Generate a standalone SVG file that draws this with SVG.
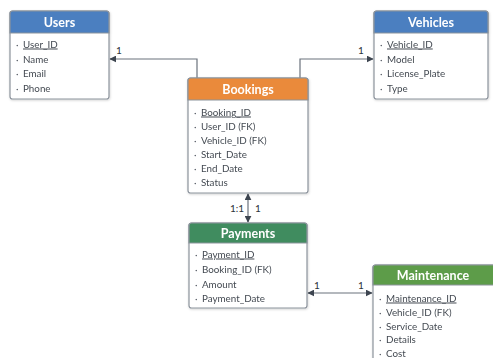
<svg xmlns="http://www.w3.org/2000/svg" width="493" height="358" viewBox="0 0 493 358">
<defs>
<marker id="arr" viewBox="0 0 10 10" refX="9" refY="5" markerWidth="7" markerHeight="7" orient="auto-start-reverse" markerUnits="userSpaceOnUse">
<path d="M0,0 L10,5 L0,10 z" fill="#3d4550"/>
</marker>
<filter id="sh" x="-10%" y="-10%" width="120%" height="120%">
<feDropShadow dx="0.5" dy="1" stdDeviation="0.8" flood-color="#000" flood-opacity="0.18"/>
</filter>
</defs>
<style>
.box{fill:#ffffff;stroke:#8c939c;stroke-width:1.2}
.hd{font-family:Lato,"Open Sans",sans-serif;font-weight:bold;font-size:12.5px;fill:#ffffff;text-anchor:middle}
.it{font-family:Lato,"Open Sans",sans-serif;font-size:9.8px;fill:#444a52}
.bu{font-family:Lato,"Open Sans",sans-serif;font-size:9.8px;fill:#5a6069}
.pk{text-decoration:underline}
.ln{fill:none;stroke:#6b727c;stroke-width:1.2}
.lb{font-family:Lato,"Open Sans",sans-serif;font-size:10px;fill:#2d333a}
</style>
<rect width="493" height="358" fill="#ffffff"/>

<g id="connectors">
<path class="ln" d="M197,78 V59 H110" marker-end="url(#arr)"/>
<text class="lb" x="116" y="54">1</text>
<path class="ln" d="M300,78 V59 H373" marker-end="url(#arr)"/>
<text class="lb" x="358" y="54">1</text>
<path class="ln" d="M248,194 V222" marker-start="url(#arr)" marker-end="url(#arr)"/>
<text class="lb" x="230" y="212">1:1</text>
<text class="lb" x="255" y="212">1</text>
<path class="ln" d="M308,293 H372" marker-start="url(#arr)" marker-end="url(#arr)"/>
<text class="lb" x="314" y="289">1</text>
<text class="lb" x="358" y="289">1</text>
</g>

<g id="users" filter="url(#sh)">
<rect class="box" x="10" y="11" width="99" height="88" rx="2.5"/>
<path d="M10,13.5 a2.5,2.5 0 0 1 2.5,-2.5 H106.5 a2.5,2.5 0 0 1 2.5,2.5 V33 H10 z" fill="#4b7fc0" stroke="#8c939c" stroke-width="1.2"/>
<text class="hd" x="59.5" y="26.5">Users</text>
<text class="bu" x="16" y="47.5">·</text><text class="it pk" x="23" y="47.5">User_ID</text>
<text class="bu" x="16" y="62.5">·</text><text class="it" x="23" y="62.5">Name</text>
<text class="bu" x="16" y="77">·</text><text class="it" x="23" y="77">Email</text>
<text class="bu" x="16" y="91.5">·</text><text class="it" x="23" y="91.5">Phone</text>
</g>

<g id="vehicles" filter="url(#sh)">
<rect class="box" x="374" y="11" width="114" height="88" rx="2.5"/>
<path d="M374,13.5 a2.5,2.5 0 0 1 2.5,-2.5 H485.5 a2.5,2.5 0 0 1 2.5,2.5 V33 H374 z" fill="#4b7fc0" stroke="#8c939c" stroke-width="1.2"/>
<text class="hd" x="431" y="26.5">Vehicles</text>
<text class="bu" x="380" y="47.5">·</text><text class="it pk" x="387" y="47.5">Vehicle_ID</text>
<text class="bu" x="380" y="62.5">·</text><text class="it" x="387" y="62.5">Model</text>
<text class="bu" x="380" y="77">·</text><text class="it" x="387" y="77">License_Plate</text>
<text class="bu" x="380" y="91.5">·</text><text class="it" x="387" y="91.5">Type</text>
</g>

<g id="bookings" filter="url(#sh)">
<rect class="box" x="188" y="78" width="120" height="115" rx="2.5"/>
<path d="M188,80.5 a2.5,2.5 0 0 1 2.5,-2.5 H305.5 a2.5,2.5 0 0 1 2.5,2.5 V100 H188 z" fill="#ea8a3b" stroke="#8c939c" stroke-width="1.2"/>
<text class="hd" x="248" y="93.5">Bookings</text>
<text class="bu" x="194" y="115.5">·</text><text class="it pk" x="201" y="115.5">Booking_ID</text>
<text class="bu" x="194" y="129.5">·</text><text class="it" x="201" y="129.5">User_ID (FK)</text>
<text class="bu" x="194" y="143.5">·</text><text class="it" x="201" y="143.5">Vehicle_ID (FK)</text>
<text class="bu" x="194" y="157.5">·</text><text class="it" x="201" y="157.5">Start_Date</text>
<text class="bu" x="194" y="171.5">·</text><text class="it" x="201" y="171.5">End_Date</text>
<text class="bu" x="194" y="186">·</text><text class="it" x="201" y="186">Status</text>
</g>

<g id="payments" filter="url(#sh)">
<rect class="box" x="189" y="223" width="118" height="85" rx="2.5"/>
<path d="M189,225.5 a2.5,2.5 0 0 1 2.5,-2.5 H304.5 a2.5,2.5 0 0 1 2.5,2.5 V243 H189 z" fill="#3f8c5f" stroke="#8c939c" stroke-width="1.2"/>
<text class="hd" x="248" y="237.5">Payments</text>
<text class="bu" x="195" y="257.5">·</text><text class="it pk" x="202" y="257.5">Payment_ID</text>
<text class="bu" x="195" y="273">·</text><text class="it" x="202" y="273">Booking_ID (FK)</text>
<text class="bu" x="195" y="287.5">·</text><text class="it" x="202" y="287.5">Amount</text>
<text class="bu" x="195" y="301.5">·</text><text class="it" x="202" y="301.5">Payment_Date</text>
</g>

<g id="maintenance" filter="url(#sh)">
<rect class="box" x="373" y="265" width="122" height="100" rx="2.5"/>
<path d="M373,267.5 a2.5,2.5 0 0 1 2.5,-2.5 H492.5 a2.5,2.5 0 0 1 2.5,2.5 V285 H373 z" fill="#5d9c48" stroke="#8c939c" stroke-width="1.2"/>
<text class="hd" x="433" y="279.5">Maintenance</text>
<text class="bu" x="379" y="301.5">·</text><text class="it pk" x="386" y="301.5">Maintenance_ID</text>
<text class="bu" x="379" y="315.5">·</text><text class="it" x="386" y="315.5">Vehicle_ID (FK)</text>
<text class="bu" x="379" y="329.5">·</text><text class="it" x="386" y="329.5">Service_Date</text>
<text class="bu" x="379" y="343">·</text><text class="it" x="386" y="343">Details</text>
<text class="bu" x="379" y="356.5">·</text><text class="it" x="386" y="356.5">Cost</text>
</g>
</svg>
